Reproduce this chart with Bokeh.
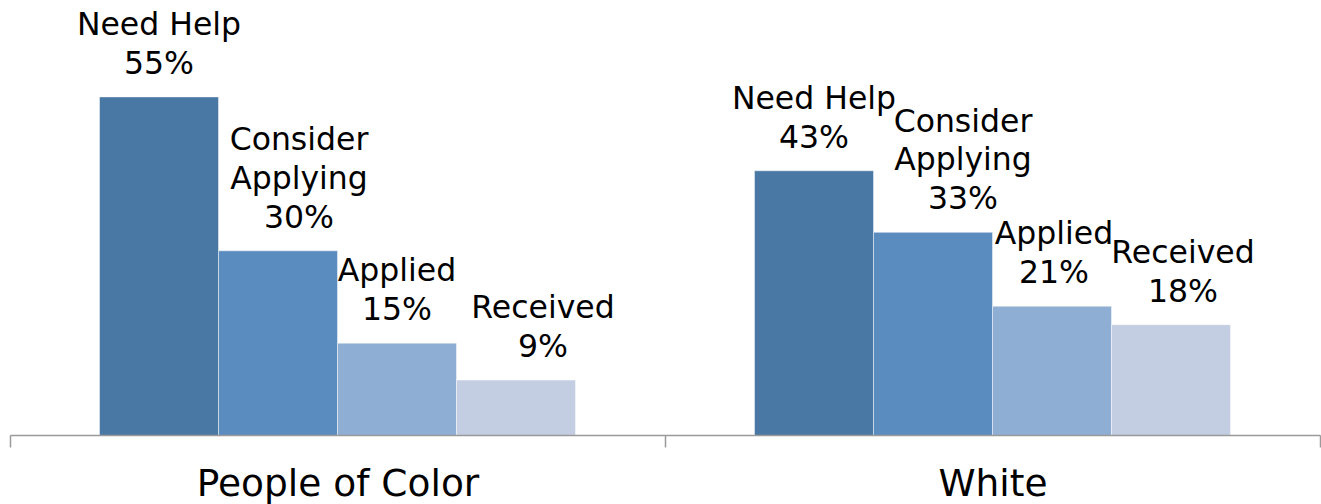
from bokeh.plotting import figure
from bokeh.models import ColumnDataSource, Range1d
from bokeh.core.properties import value
from bokeh.embed import file_html
from bokeh.resources import INLINE

# ---- data ----
groups = ["People of Color", "White"]
stages = ["Need Help", "Consider\nApplying", "Applied", "Received"]
poc_values = [55, 30, 15, 9]
white_values = [43, 33, 21, 18]

# ---- style ----
colors = ["#4A78A5", "#5A8CBF", "#8FAED3", "#C3CEE3"]
label_dx = {"People of Color": [0, 21, 0, 27], "White": [0, 30, 2, 12]}
GROUP_PAD = 89 / 655
BAR_W = 119 / 655
PX = 6.156          # pixels per percentage point
FONT = "DejaVu Sans"
AXIS_COLOR = "#9A9A9A"

xs, tops, fills, texts, dxs = [], [], [], [], []
for gi, (g, vals) in enumerate(zip(groups, [poc_values, white_values])):
    for k, (s, v) in enumerate(zip(stages, vals)):
        xs.append(gi + GROUP_PAD + (k + 0.5) * BAR_W)
        tops.append(v)
        fills.append(colors[k])
        texts.append(f"{s}\n{v}%")
        dxs.append(label_dx[g][k])

src = ColumnDataSource(dict(x=xs, top=tops, fill=fills, text=texts, dx=dxs))

p = figure(width=1321, height=504, output_backend="svg", toolbar_location=None,
           x_range=Range1d(-10 / 655, 2 + 1 / 655),
           y_range=Range1d(-69 / PX, 435 / PX),
           min_border_left=0, min_border_right=0, min_border_top=0, min_border_bottom=0)
p.outline_line_color = None
p.xgrid.visible = False
p.ygrid.visible = False
p.xaxis.visible = False
p.yaxis.visible = False
p.background_fill_color = "white"
p.border_fill_color = "white"

p.vbar(x="x", top="top", bottom=0, width=BAR_W, fill_color="fill",
       line_color="white", line_alpha=0.45, line_width=1, source=src)

p.text(x="x", y="top", text="text", x_offset="dx", y_offset=-16, source=src,
       text_align="center", text_baseline="bottom", text_font=value(FONT),
       text_font_size="31.5px", text_color="black", text_line_height=1.08)

# category axis: baseline, group boundary ticks, group names
n = len(groups)
p.segment(x0=[0], y0=[0], x1=[n], y1=[0], line_color=AXIS_COLOR, line_width=1.5)
tick_x = list(range(n + 1))
p.segment(x0=tick_x, y0=[0] * (n + 1), x1=tick_x, y1=[-12 / PX] * (n + 1),
          line_color=AXIS_COLOR, line_width=1.5)
p.text(x=[i + 0.5 for i in range(n)], y=[-25 / PX] * n, text=groups,
       text_align="center", text_baseline="top", text_font=value(FONT),
       text_font_size="37.5px", text_color="black")

open("out.html", "w").write(file_html(p, INLINE))
